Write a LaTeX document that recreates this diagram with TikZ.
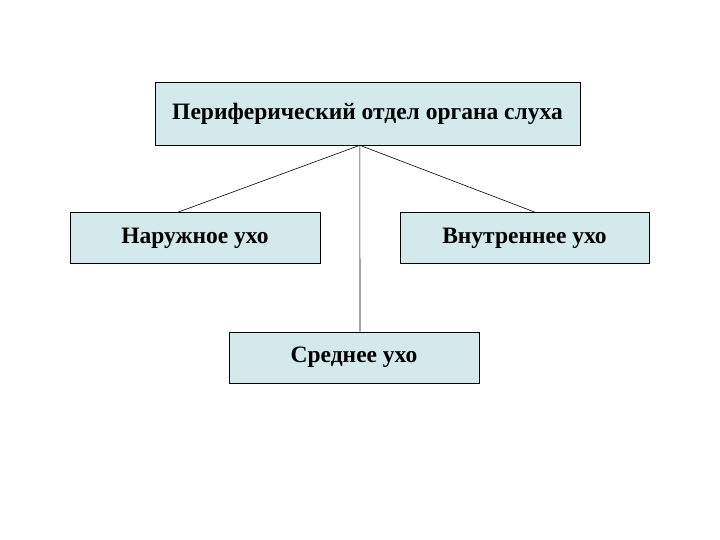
\documentclass[tikz,border=0pt]{standalone}
\usepackage{fontspec}
\setmainfont{Liberation Serif}
\usetikzlibrary{calc}
\definecolor{boxfill}{HTML}{D4E9EC}
\begin{document}
\begin{tikzpicture}[x=1pt,y=1pt,
  box/.style={draw=black, line width=0.6pt, fill=boxfill, minimum height=51pt, font=\bfseries\fontsize{23.5}{28}\selectfont, inner sep=0pt},
  conn/.style={draw=black, line width=0.6pt}]
\useasboundingbox (0,0) rectangle (720,540);
\node[box, minimum width=425pt, minimum height=63pt] (top) at (367.5,426.5) {Периферический отдел органа слуха};
\node[box, minimum width=250pt] (left) at (195,302) {Наружное ухо};
\node[box, minimum width=249pt] (right) at (524.5,302) {Внутреннее ухо};
\node[box, minimum width=250pt] (mid) at (354,182.5) {Среднее ухо};
\coordinate (apex) at ($(top.south west)!0.482!(top.south east)$);
\draw[conn] (apex) -- ($(left.north west)!0.432!(left.north east)$);
\draw[conn] (apex) -- ($(right.north west)!0.542!(right.north east)$);
\draw[conn] (apex) -- ($(mid.north west)!0.524!(mid.north east)$);
\end{tikzpicture}
\end{document}
